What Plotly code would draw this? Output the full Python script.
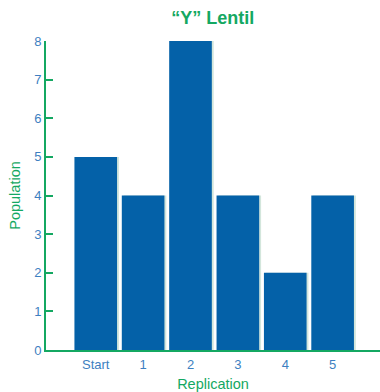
import plotly.graph_objects as go

categories = ["Start", "1", "2", "3", "4", "5"]
population = [5, 4, 8, 4, 2, 4]
y_ticks = [0, 1, 2, 3, 4, 5, 6, 7, 8]

green = "#14a862"
bar_blue = "#0461a8"
tick_blue = "#3d7fc1"

fig = go.Figure()
# soft drop shadow to the right of each bar
fig.add_trace(go.Bar(
    x=categories, y=population, width=0.9, offset=-0.41,
    marker=dict(color="#d3e6dc", line=dict(width=0)),
    hoverinfo="skip", showlegend=False,
))
fig.add_trace(go.Bar(
    x=categories, y=population, width=0.9, offset=-0.45,
    marker=dict(color=bar_blue, line=dict(width=0)),
    showlegend=False,
))

fig.update_layout(
    width=380, height=392,
    margin=dict(l=46, r=0, t=41, b=42),
    paper_bgcolor="white", plot_bgcolor="white",
    barmode="overlay",
    title=dict(
        text="<b>“Y” Lentil</b>",
        x=0.56, xanchor="center", y=0.955, yanchor="middle",
        font=dict(family="Liberation Sans Narrow, Arial Narrow, Liberation Sans, sans-serif",
                  size=18, color=green),
    ),
    font=dict(family="Liberation Sans, Arial, sans-serif"),
)

fig.update_xaxes(
    type="category", range=[-1.05, 6.0],
    showline=True, linecolor=green, linewidth=2,
    showgrid=False, zeroline=False,
    ticks="", ticklabelstandoff=1, tickfont=dict(size=13, color=tick_blue),
    title=dict(text="Replication", font=dict(size=14.5, color=green), standoff=8),
)
fig.update_yaxes(
    range=[0, 8], tickvals=y_ticks,
    showline=True, linecolor=green, linewidth=2,
    showgrid=False, zeroline=False,
    ticks="inside", ticklen=7, tickwidth=2, tickcolor=green,
    tickfont=dict(size=13, color=tick_blue),
    title=dict(text="Population", font=dict(size=14.5, color=green), standoff=10),
)

fig.write_html("out.html")
